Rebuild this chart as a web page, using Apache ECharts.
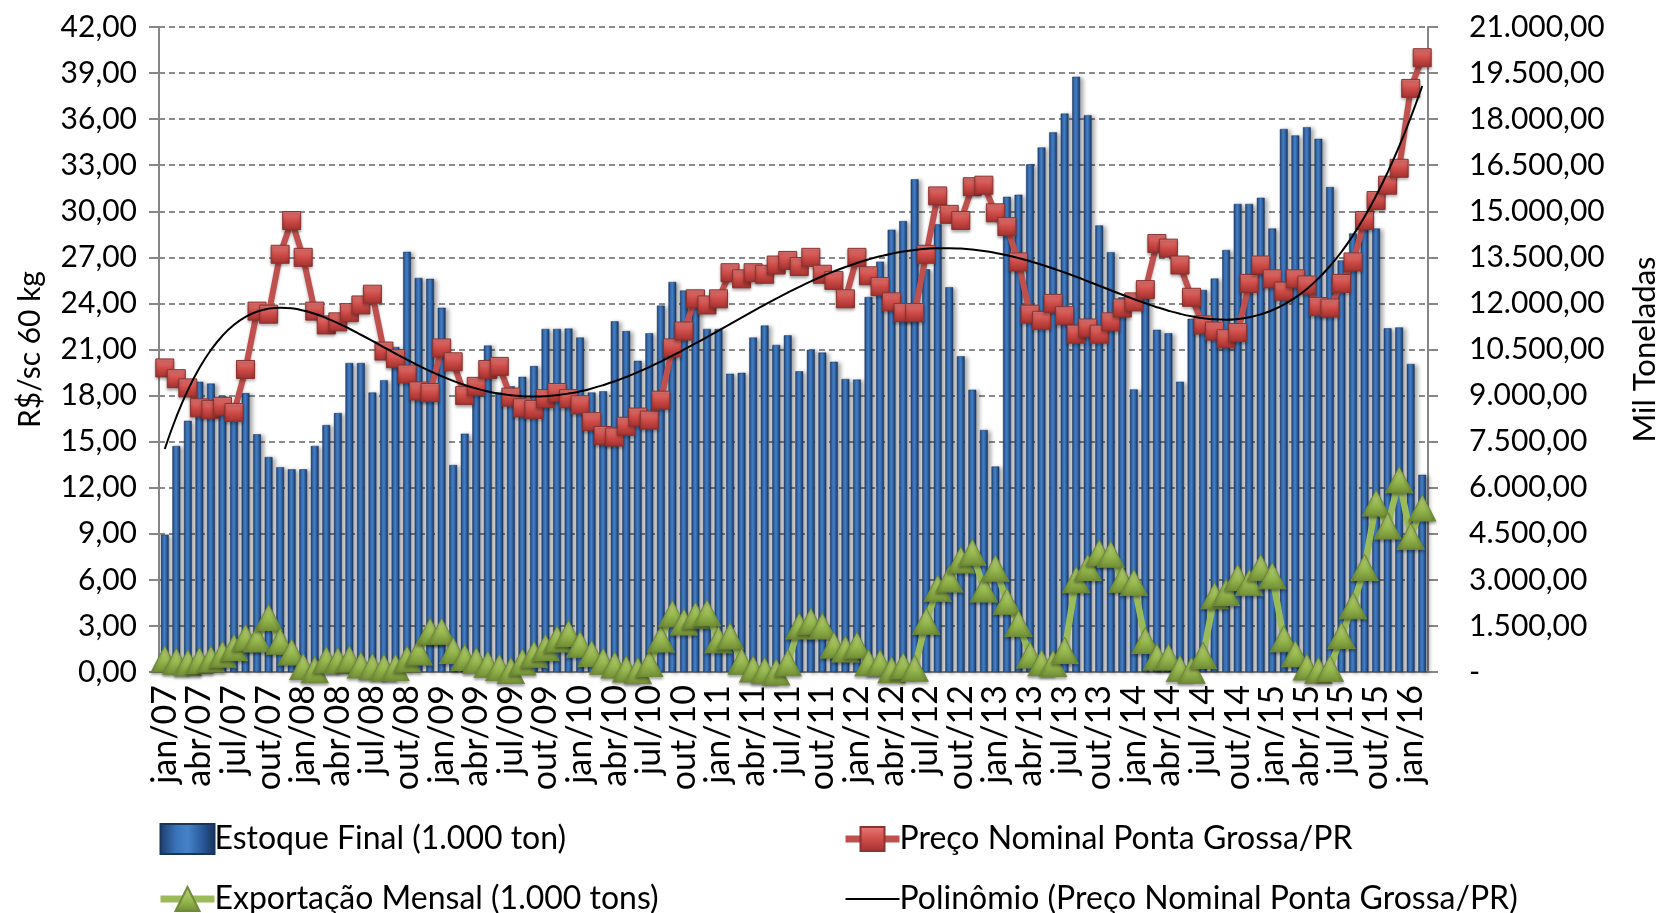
<!DOCTYPE html>
<html>
<head>
<meta charset="utf-8">
<script src="https://cdn.jsdelivr.net/npm/echarts@6/dist/echarts.min.js"></script>
<style>
html, body { margin: 0; padding: 0; background: #fff; }
#chart { width: 1661px; height: 913px; }
</style>
</head>
<body>
<div id="chart"></div>
<script>
//meses e anos do eixo x (jan/07 a fev/16)
var meses = ["jan", "fev", "mar", "abr", "mai", "jun", "jul", "ago", "set", "out", "nov", "dez"];
var anos = ["07", "08", "09", "10", "11", "12", "13", "14", "15", "16"];
var categorias = [];
for (var a = 0; a < anos.length; a++) {
    for (var m = 0; m < 12; m++) {
        if (a == anos.length - 1 && m > 1) break;
        categorias.push(meses[m] + "/" + anos[a]);
    }
}

//Estoque Final (1.000 ton) - eixo direito
var estoque = [
    4470, 7360, 8180, 9450, 9390, 8990, 8500, 9080, 7740, 7000, 6670, 6600,
    6600, 7360, 8040, 8430, 10060, 10060, 9100, 9500, 10580, 13680, 12830, 12800,
    11860, 6740, 7760, 9500, 10630, 9100, 9300, 9610, 9960, 11170, 11170, 11180,
    10890, 9100, 9140, 11420, 11100, 10130, 11030, 11930, 12700, 12420, 12430, 11170,
    11170, 9710, 9740, 10890, 11280, 10650, 10960, 9790, 10490, 10400, 10100, 9540,
    9520, 12210, 13360, 14400, 14680, 16040, 13110, 14580, 12530, 10280, 9190, 7880,
    6690, 15470, 15540, 16530, 17080, 17570, 18180, 19380, 18130, 14540, 13670, 12200,
    9200, 12200, 11140, 11030, 9450, 11500, 12440, 12810, 13740, 15240, 15240, 15440,
    14440, 17680, 17470, 17740, 17360, 15790, 13400, 14280, 14750, 14440, 11190, 11220,
    10030, 6420
];

//Preço Nominal Ponta Grossa/PR (R$/sc 60 kg) - eixo esquerdo
var preco = [
    19.8, 19.1, 18.5, 17.2, 17.1, 17.3, 16.9, 19.7, 23.5, 23.3, 27.2, 29.4,
    27.0, 23.5, 22.6, 22.8, 23.4, 23.9, 24.6, 20.9, 20.4, 19.4, 18.3, 18.2,
    21.1, 20.2, 18.0, 18.6, 19.7, 19.9, 17.9, 17.2, 17.1, 17.8, 18.2, 17.8,
    17.4, 16.3, 15.4, 15.3, 16.0, 16.6, 16.4, 17.7, 21.1, 22.2, 24.3, 23.9,
    24.3, 26.0, 25.6, 26.0, 25.9, 26.5, 26.8, 26.4, 27.0, 25.9, 25.5, 24.3,
    27.0, 25.8, 25.1, 24.1, 23.4, 23.4, 27.2, 31.0, 29.8, 29.4, 31.6, 31.7,
    29.9, 29.0, 26.7, 23.3, 22.9, 24.0, 23.2, 22.0, 22.4, 22.0, 22.8, 23.7,
    24.1, 24.9, 27.9, 27.6, 26.5, 24.4, 22.6, 22.2, 21.7, 22.1, 25.3, 26.5,
    25.6, 24.8, 25.6, 25.2, 23.8, 23.7, 25.3, 26.7, 29.4, 30.7, 31.7, 32.8,
    38.0, 40.0
];

//Exportação Mensal (1.000 tons) - eixo direito
var exportacao = [
    425, 350, 300, 375, 425, 575, 800, 1125, 1075, 1775, 1000, 650,
    175, 75, 400, 375, 425, 225, 175, 150, 150, 425, 650, 1325,
    1325, 700, 475, 375, 250, 150, 50, 325, 575, 800, 1075, 1250,
    900, 600, 350, 225, 100, 50, 275, 1075, 1900, 1625, 1850, 1925,
    1050, 1175, 350, 100, 50, 0, 300, 1500, 1650, 1500, 875, 750,
    875, 300, 300, 75, 200, 125, 1650, 2725, 3025, 3650, 3900, 2700,
    3375, 2300, 1575, 550, 300, 275, 700, 3000, 3400, 3880, 3830, 3020,
    2910, 1025, 485, 485, 110, 55, 540, 2480, 2590, 3075, 2910, 3400,
    3130, 1080, 590, 160, 55, 110, 1190, 2160, 3400, 5500, 4750, 6260,
    4420, 5340
];

//linha de tendência polinomial (ordem 6) calculada a partir do preço
function tendencia(y, grau) {
    var n = y.length, c = (n - 1) / 2;
    var A = [], b = [];
    for (var r = 0; r <= grau; r++) {
        A.push([]);
        for (var s = 0; s <= grau; s++) A[r].push(0);
        b.push(0);
    }
    for (var i = 0; i < n; i++) {
        var t = (i - c) / c, pw = [1];
        for (var k = 1; k <= 2 * grau; k++) pw.push(pw[k - 1] * t);
        for (var r = 0; r <= grau; r++) {
            b[r] += y[i] * pw[r];
            for (var s = 0; s <= grau; s++) A[r][s] += pw[r + s];
        }
    }
    //eliminação de Gauss
    for (var p = 0; p <= grau; p++) {
        for (var r = p + 1; r <= grau; r++) {
            var f = A[r][p] / A[p][p];
            for (var s = p; s <= grau; s++) A[r][s] -= f * A[p][s];
            b[r] -= f * b[p];
        }
    }
    var coef = [];
    for (var r = grau; r >= 0; r--) {
        var soma = b[r];
        for (var s = r + 1; s <= grau; s++) soma -= A[r][s] * coef[s];
        coef[r] = soma / A[r][r];
    }
    return y.map(function (_, i) {
        var t = (i - c) / c, v = 0;
        for (var k = grau; k >= 0; k--) v = v * t + coef[k];
        return +v.toFixed(3);
    });
}
var polinomio = tendencia(preco, 6);

function fmtEsq(v) {
    return v.toFixed(2).replace(".", ",");
}
function fmtDir(v) {
    if (v == 0) return "-";
    var s = Math.round(v).toString().replace(/\B(?=(\d{3})+(?!\d))/g, ".");
    return s + ",00";
}

var fonte = "Lato";
var corEixo = "#868686";
var estiloLegenda = { fontFamily: fonte, fontSize: 32, color: "#000", padding: [0, 0, 0, -5] };

var myChart = echarts.init(document.getElementById("chart"));
var option = {
    backgroundColor: "#fff",
    textStyle: { fontFamily: fonte, color: "#000" },
    grid: { left: 159, right: 233, top: 27, bottom: 241, outerBoundsMode: "none" },
    legend: [{
        orient: "vertical",
        left: 157,
        top: 823,
        height: 200,
        padding: 0,
        itemGap: 28,
        itemWidth: 54,
        itemHeight: 30,
        textStyle: estiloLegenda,
        data: [
            { name: "Estoque Final (1.000 ton)", icon: "rect" },
            { name: "Exportação Mensal (1.000 tons)", lineStyle: { width: 7 } }
        ]
    }, {
        orient: "vertical",
        left: 842,
        top: 823,
        height: 200,
        padding: 0,
        itemGap: 28,
        itemWidth: 54,
        itemHeight: 30,
        textStyle: estiloLegenda,
        data: [
            { name: "Preço Nominal Ponta Grossa/PR", lineStyle: { width: 7 } },
            {
                name: "Polinômio (Preço Nominal Ponta Grossa/PR)",
                itemStyle: { color: "rgba(0,0,0,0)", borderWidth: 0 },
                lineStyle: { width: 2 }
            }
        ]
    }],
    xAxis: {
        type: "category",
        data: categorias,
        boundaryGap: true,
        axisLine: { lineStyle: { color: corEixo, width: 2 } },
        axisTick: { interval: 2, length: 10, lineStyle: { color: corEixo, width: 2 } },
        axisLabel: { interval: 2, rotate: 90, margin: 13, fontSize: 34, color: "#000", fontFamily: fonte }
    },
    yAxis: [{
        type: "value",
        min: 0,
        max: 42,
        interval: 3,
        name: "R$/sc 60 kg",
        nameLocation: "middle",
        nameGap: 114,
        nameTextStyle: { fontSize: 30, color: "#000", fontFamily: fonte },
        axisLine: { show: true, lineStyle: { color: corEixo, width: 2 } },
        axisTick: { show: true, length: 10, lineStyle: { color: corEixo, width: 2 } },
        axisLabel: { formatter: fmtEsq, fontSize: 30, margin: 22, color: "#000", fontFamily: fonte },
        splitLine: { show: true, lineStyle: { color: "#8a8a8a", width: 2, type: [6, 4] } }
    }, {
        type: "value",
        min: 0,
        max: 21000,
        interval: 1500,
        name: "Mil Toneladas",
        nameLocation: "middle",
        nameGap: 201,
        nameTextStyle: { fontSize: 31, color: "#000", fontFamily: fonte },
        axisLine: { show: true, lineStyle: { color: corEixo, width: 2 } },
        axisTick: { show: true, length: 10, lineStyle: { color: corEixo, width: 2 } },
        axisLabel: { formatter: fmtDir, fontSize: 30, margin: 41, color: "#000", fontFamily: fonte },
        splitLine: { show: false }
    }],
    series: [{
        name: "Estoque Final (1.000 ton)",
        type: "bar",
        yAxisIndex: 1,
        barWidth: "68%",
        data: estoque,
        z: 1,
        itemStyle: {
            color: {
                type: "linear", x: 0, y: 0, x2: 1, y2: 0,
                colorStops: [
                    { offset: 0, color: "#1b3c6c" },
                    { offset: 0.3, color: "#3a73ba" },
                    { offset: 0.5, color: "#4682c8" },
                    { offset: 0.75, color: "#2b5c9c" },
                    { offset: 1, color: "#16325a" }
                ]
            },
            borderColor: "#1a355c",
            borderWidth: 0.5,
            shadowColor: "rgba(0,0,0,0.35)",
            shadowBlur: 4,
            shadowOffsetX: 3,
            shadowOffsetY: 1
        }
    }, {
        name: "Preço Nominal Ponta Grossa/PR",
        type: "line",
        yAxisIndex: 0,
        data: preco,
        z: 3,
        symbol: "rect",
        symbolSize: 18,
        showAllSymbol: true,
        lineStyle: { color: "#c0504d", width: 6, shadowColor: "rgba(0,0,0,0.3)", shadowBlur: 3, shadowOffsetY: 2 },
        itemStyle: {
            color: {
                type: "linear", x: 0, y: 0, x2: 0, y2: 1,
                colorStops: [
                    { offset: 0, color: "#e57a77" },
                    { offset: 0.5, color: "#cf4d49" },
                    { offset: 1, color: "#a2302d" }
                ]
            },
            borderColor: "#8c3230",
            borderWidth: 1,
            shadowColor: "rgba(0,0,0,0.35)",
            shadowBlur: 3,
            shadowOffsetY: 2
        }
    }, {
        name: "Exportação Mensal (1.000 tons)",
        type: "line",
        yAxisIndex: 1,
        data: exportacao,
        z: 4,
        symbol: "triangle",
        symbolSize: [27, 26],
        showAllSymbol: true,
        lineStyle: { color: "#9bbb59", width: 6.5 },
        itemStyle: {
            color: {
                type: "linear", x: 0, y: 0, x2: 0, y2: 1,
                colorStops: [
                    { offset: 0, color: "#bcd67f" },
                    { offset: 0.55, color: "#98b94f" },
                    { offset: 1, color: "#708d34" }
                ]
            },
            borderColor: "#6e8a3a",
            borderWidth: 1,
            shadowColor: "rgba(0,0,0,0.35)",
            shadowBlur: 3,
            shadowOffsetY: 2
        }
    }, {
        name: "Polinômio (Preço Nominal Ponta Grossa/PR)",
        type: "line",
        yAxisIndex: 0,
        data: polinomio,
        z: 5,
        symbol: "none",
        smooth: true,
        lineStyle: { color: "#000", width: 2 },
        itemStyle: { color: "#000" }
    }]
};
myChart.setOption(option);
</script>
</body>
</html>
